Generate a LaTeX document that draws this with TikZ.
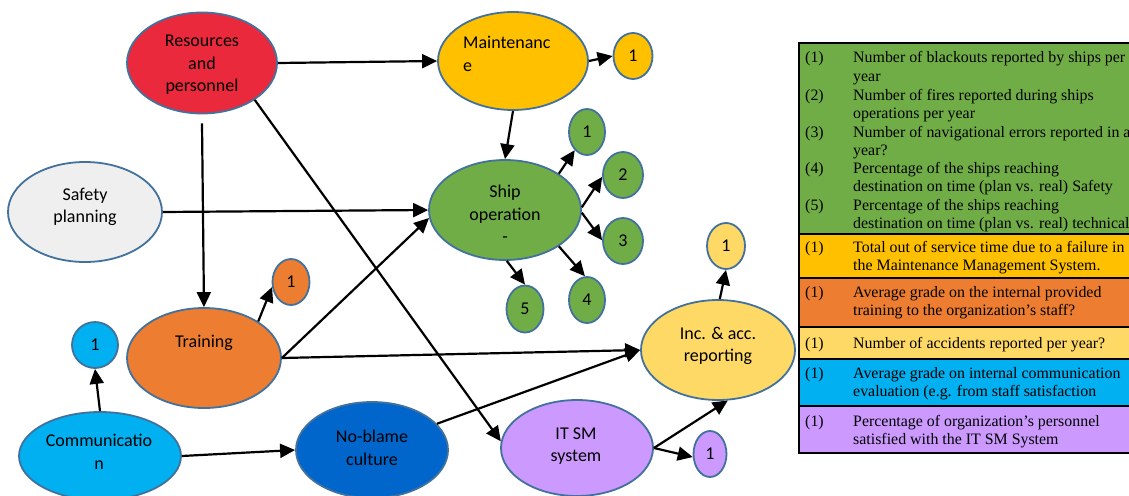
\documentclass[tikz,border=0pt]{standalone}
\usepackage{fontspec}
\setmainfont{Liberation Serif}
\newfontfamily\calfont{Carlito}
\usetikzlibrary{arrows.meta,shapes.geometric}
\definecolor{bord}{HTML}{41719C}
\definecolor{cred}{HTML}{EA2A3C}
\definecolor{cgold}{HTML}{FFC000}
\definecolor{cgreen}{HTML}{70AD47}
\definecolor{cgrey}{HTML}{EFEFEF}
\definecolor{corange}{HTML}{ED7D31}
\definecolor{cyel}{HTML}{FFD966}
\definecolor{cpurp}{HTML}{CC99FF}
\definecolor{ccyan}{HTML}{00B0F0}
\definecolor{cblue}{HTML}{0066CC}
\begin{document}
\begin{tikzpicture}[x=1pt,y=-1pt,
  big/.style={draw=bord, line width=1.8pt, ellipse, inner sep=0pt},
  small/.style={draw=bord, line width=1.8pt, ellipse, inner sep=0pt, font=\calfont\fontsize{18}{22}\selectfont},
  lbl/.style={font=\calfont\fontsize{18}{22.5}\selectfont, align=center, inner sep=0pt},
  arr/.style={line width=2.2pt, -{Triangle[length=15pt,width=14pt]}},
  tf/.style={font=\fontsize{15.9}{18.3}\selectfont, anchor=base west, inner sep=0pt, align=left}]
\useasboundingbox (0,0) rectangle (1129,495);
% big ellipses
\node[big, fill=cred, minimum width=150pt, minimum height=101pt] (res) at (202,63) {};
\node[big, fill=cgold, minimum width=150pt, minimum height=98pt] (mnt) at (513,61) {};
\node[big, fill=cgreen, minimum width=152pt, minimum height=100pt] (ship) at (505,210) {};
\node[big, fill=cgrey, minimum width=154pt, minimum height=100pt] (sp) at (85,212) {};
\node[big, fill=corange, minimum width=154pt, minimum height=100pt] (tr) at (204,358) {};
\node[big, fill=cyel, minimum width=154pt, minimum height=100pt] (inc) at (718,350) {};
\node[big, fill=cpurp, minimum width=152pt, minimum height=96pt] (itsm) at (577,448) {};
\node[big, fill=ccyan, minimum width=162pt, minimum height=88pt] (comm) at (100,456) {};
\node[big, fill=cblue, minimum width=152pt, minimum height=96pt] (nb) at (372,450) {};
% labels
\node[lbl] (resl) at (202,65) {Resources\\and\\personnel};
\node[lbl, align=left, anchor=west] (mntl) at (463,54) {Maintenanc\\e};
\node[lbl] (shipl) at (505,214) {Ship\\operation\\-};
\node[lbl] (spl) at (85,207) {Safety\\planning};
\node[lbl] (trl) at (204,343) {Training};
\node[lbl] (incl) at (718,346) {Inc. \& acc.\\reporting};
\node[lbl] (itsml) at (576,446) {IT SM\\system};
\node[lbl] (comml) at (99,452) {Communicatio\\n};
\node[lbl] (nbl) at (372,448) {No-blame\\culture};
% small ellipses
\node[small, fill=cgold, minimum width=39pt, minimum height=46pt] (m1) at (633,56) {1};
\node[small, fill=cgreen, minimum width=36pt, minimum height=46pt] (g1) at (587,132) {1};
\node[small, fill=cgreen, minimum width=40pt, minimum height=46pt] (g2) at (623,175) {2};
\node[small, fill=cgreen, minimum width=40pt, minimum height=46pt] (g3) at (623,241) {3};
\node[small, fill=cgreen, minimum width=36pt, minimum height=46pt] (g4) at (587,300) {4};
\node[small, fill=cgreen, minimum width=37pt, minimum height=47pt] (g5) at (525,309) {5};
\node[small, fill=cyel, minimum width=38pt, minimum height=46pt] (y1) at (726,246) {1};
\node[small, fill=cpurp, minimum width=33pt, minimum height=46pt] (p1) at (710,454) {1};
\node[small, fill=corange, minimum width=37pt, minimum height=46pt] (o1) at (291,282) {1};
\node[small, fill=ccyan, minimum width=46pt, minimum height=46pt] (b1) at (95,345) {1};
% connectors
\draw[arr] (res.east) -- (mnt.west);
\draw[arr] ([yshift=-9pt]res.south) -- (tr.north);
\draw[arr] (res.-35) -- (itsm.175);
\draw[arr] (mnt.south) -- (ship.north);
\draw[arr] (mnt.east) -- (m1.west);
\draw[arr] (sp.east) -- (ship.west);
\draw[arr] (tr.east) -- (ship.186);
\draw[arr] (tr.east) -- (inc.west);
\draw[arr] (tr.34) -- (o1.195);
\draw[arr] (ship.34) -- (g1.236);
\draw[arr] (ship.2) -- (g2.185);
\draw[arr] (ship.-2) -- (g3.178);
\draw[arr] (ship.-34) -- (g4.95);
\draw[arr] (ship.-88) -- (g5.north);
\draw[arr] (inc.88) -- (y1.south);
\draw[arr] (itsm.east) -- (inc.-79);
\draw[arr] (itsm.east) -- (p1.190);
\draw[arr] (nb.22) -- (inc.west);
\draw[arr] (comm.east) -- (nb.west);
\draw[arr] (comm.north) -- (b1.south);
% table
\fill[cgreen] (799,43) rectangle (1140,234);
\fill[cgold] (799,234) rectangle (1140,278);
\fill[corange] (799,278) rectangle (1140,327);
\fill[cyel] (799,327) rectangle (1140,359);
\fill[ccyan] (799,359) rectangle (1140,406);
\fill[cpurp] (799,406) rectangle (1140,453);
\draw[line width=1.8pt] (1140,43) -- (799,43) -- (799,453) -- (1140,453);
\foreach \yy in {234,278,327,359,406} \draw[line width=1.8pt] (799,\yy) -- (1140,\yy);
\node[tf] (n1) at (805,63) {(1)};
\node[tf] (t1) at (853,81.3) {Number of blackouts reported by ships per\\year};
\node[tf] (n2) at (805,100) {(2)};
\node[tf] (t2) at (853,118.3) {Number of fires reported during ships\\operations per year};
\node[tf] (n3) at (805,137) {(3)};
\node[tf] (t3) at (853,155.3) {Number of navigational errors reported in a\\year?};
\node[tf] (n4) at (805,173) {(4)};
\node[tf] (t4) at (853,191.3) {Percentage of the ships reaching\\destination on time (plan vs. real) Safety};
\node[tf] (n5) at (805,210) {(5)};
\node[tf] (t5) at (853,228.3) {Percentage of the ships reaching\\destination on time (plan vs. real) technical};
\node[tf] (n6) at (805,252) {(1)};
\node[tf] (t6) at (853,270.3) {Total out of service time due to a failure in\\the Maintenance Management System.};
\node[tf] (n7) at (805,297) {(1)};
\node[tf] (t7) at (853,315.3) {Average grade on the internal provided\\training to the organization’s staff?};
\node[tf] (n8) at (805,348) {(1)};
\node[tf] (t8) at (853,348) {Number of accidents reported per year?};
\node[tf] (n9) at (805,378) {(1)};
\node[tf] (t9) at (853,396.3) {Average grade on internal communication\\evaluation (e.g. from staff satisfaction};
\node[tf] (n10) at (805,426) {(1)};
\node[tf] (t10) at (853,444.3) {Percentage of organization’s personnel\\satisfied with the IT SM System};
\end{tikzpicture}
\end{document}
